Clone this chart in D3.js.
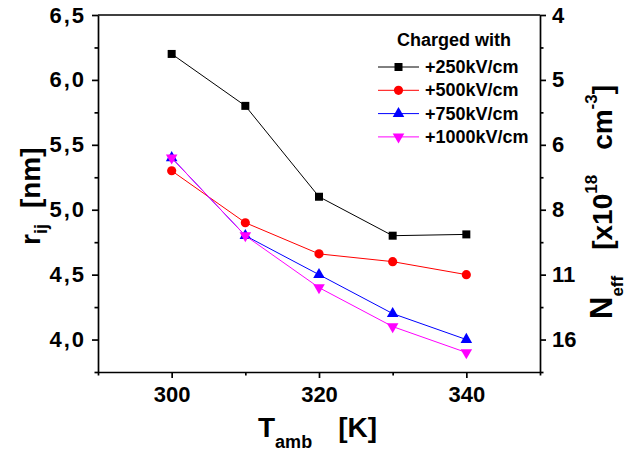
<!DOCTYPE html>
<html>
<head>
<meta charset="utf-8">
<script src="https://cdn.jsdelivr.net/npm/d3@7"></script>
<style>
  html, body { margin: 0; padding: 0; background: #fff; }
  svg { display: block; }
</style>
</head>
<body>
<svg id="chart"></svg>
<script>
const WIDTH = 630
const HEIGHT = 453
const MARGIN = { top: 15, right: 90, bottom: 81, left: 98 }
const FONT = "'Liberation Sans', Arial, sans-serif"

// data
const temps = [300, 310, 320, 330, 340]
const seriesNames = ['+250kV/cm', '+500kV/cm', '+750kV/cm', '+1000kV/cm']
const r250 = [6.2, 5.8, 5.1, 4.8, 4.81]
const r500 = [5.3, 4.9, 4.66, 4.6, 4.5]
const r750 = [5.4, 4.8, 4.5, 4.2, 4.0]
const r1000 = [5.4, 4.8, 4.4, 4.1, 3.9]
const seriesColors = ['#000000', '#ff0000', '#0000ff', '#ff00ff']
const seriesSymbols = ['square', 'circle', 'triangle', 'triangleDown']

const xTicks = [300, 320, 340]
const xMinorTicks = [290, 310, 330, 350]
const yTicks = [4.0, 4.5, 5.0, 5.5, 6.0, 6.5]
const yMinorTicks = [3.75, 4.25, 4.75, 5.25, 5.75, 6.25]
// right axis: N_eff labels sit at the same r positions
const neffTickPos = [6.5, 6.0, 5.5, 5.0, 4.5, 4.0]
const neffTickLabels = ['4', '5', '6', '8', '11', '16']

const legendTitle = 'Charged with'

const innerWidth = WIDTH - MARGIN.left - MARGIN.right
const innerHeight = HEIGHT - MARGIN.top - MARGIN.bottom

const svg = d3.select('#chart')
    .attr('width', WIDTH).attr('height', HEIGHT)
    .attr('viewBox', `0 0 ${WIDTH} ${HEIGHT}`)
    .attr('font-family', FONT)
    .attr('font-weight', 'bold')
const g = svg.append('g').attr('transform', `translate(${MARGIN.left},${MARGIN.top})`)

const xScale = d3.scaleLinear().domain([290, 350]).range([0, innerWidth])
const yScale = d3.scaleLinear().domain([3.75, 6.5]).range([innerHeight, 0])

const AXIS_W = 1.7
const MAJOR = 6
const MINOR = 3.5

function styleAxis(sel) {
    sel.attr('font-family', FONT).attr('font-size', 22)
    sel.selectAll('g').attr('font-family', FONT).attr('font-size', 22)
    sel.select('.domain').attr('stroke', '#000').attr('stroke-width', AXIS_W)
    sel.selectAll('.tick line').attr('stroke', '#000').attr('stroke-width', AXIS_W)
    sel.selectAll('.tick text')
        .attr('fill', '#000')
        .attr('font-size', 22)
        .attr('font-weight', 'bold')
}

// minor ticks only: drop the empty labels
function minorOnly(sel) {
    sel.selectAll('.tick text').remove()
}

// frame (top line)
g.append('line')
    .attr('x1', 0).attr('x2', innerWidth)
    .attr('y1', 0).attr('y2', 0)
    .attr('stroke', '#000').attr('stroke-width', AXIS_W)

// bottom axis
const xAxisG = g.append('g').attr('transform', `translate(0,${innerHeight})`)
xAxisG.call(d3.axisBottom(xScale).tickValues(xMinorTicks).tickSize(MINOR).tickSizeOuter(0))
    .call(minorOnly)
xAxisG.append('g')
    .call(d3.axisBottom(xScale).tickValues(xTicks).tickSize(MAJOR).tickPadding(8).tickSizeOuter(0))
    .call(s => s.select('.domain').remove())
styleAxis(xAxisG)

// left axis
const yAxisG = g.append('g')
yAxisG.call(d3.axisLeft(yScale).tickValues(yMinorTicks).tickSize(MINOR).tickSizeOuter(0))
    .call(minorOnly)
yAxisG.append('g')
    .call(d3.axisLeft(yScale).tickValues(yTicks).tickSize(MAJOR)
        .tickPadding(6).tickFormat(d => d3.format('.1f')(d).replace('.', ',')).tickSizeOuter(0))
    .call(s => s.select('.domain').remove())
styleAxis(yAxisG)
yAxisG.selectAll('.tick text').attr('letter-spacing', 2)

// right axis
const rAxisG = g.append('g').attr('transform', `translate(${innerWidth},0)`)
rAxisG.call(d3.axisRight(yScale).tickValues(yMinorTicks).tickSize(MINOR).tickSizeOuter(0))
    .call(minorOnly)
rAxisG.append('g')
    .call(d3.axisRight(yScale).tickValues(neffTickPos).tickSize(MAJOR).tickPadding(6)
        .tickFormat((d, i) => neffTickLabels[i]).tickSizeOuter(0))
    .call(s => s.select('.domain').remove())
styleAxis(rAxisG)

// series
const seriesValues = [r250, r500, r750, r1000]
const symbolFor = {
    square: { type: d3.symbolSquare, size: 64, rot: 0 },
    circle: { type: d3.symbolCircle, size: 66, rot: 0 },
    triangle: { type: d3.symbolTriangle, size: 58, rot: 0 },
    triangleDown: { type: d3.symbolTriangle, size: 58, rot: 180 },
}

const lineGen = d3.line()
    .x(d => xScale(d.t))
    .y(d => yScale(d.v))

seriesValues.forEach((vals, si) => {
    const pts = temps.map((t, i) => ({ t, v: vals[i] }))
    const color = seriesColors[si]
    const sym = symbolFor[seriesSymbols[si]]
    g.append('path').datum(pts)
        .attr('fill', 'none')
        .attr('stroke', color)
        .attr('stroke-width', 1)
        .attr('d', lineGen)
    g.selectAll(`.pt-${si}`).data(pts).enter()
        .append('path').attr('class', `pt-${si}`)
        .attr('d', d3.symbol().type(sym.type).size(sym.size))
        .attr('transform', d => `translate(${xScale(d.t)},${yScale(d.v)}) rotate(${sym.rot})`)
        .attr('fill', color)
})

// legend
const legend = svg.append('g').attr('transform', 'translate(378,0)')
legend.append('text')
    .attr('x', 19).attr('y', 46)
    .attr('font-size', 18)
    .text(legendTitle)
seriesNames.forEach((name, i) => {
    const y = 67 + i * 23.3
    const sym = symbolFor[seriesSymbols[i]]
    legend.append('line')
        .attr('x1', 0).attr('x2', 41)
        .attr('y1', y).attr('y2', y)
        .attr('stroke', seriesColors[i]).attr('stroke-width', 1)
    legend.append('path')
        .attr('d', d3.symbol().type(sym.type).size(sym.size))
        .attr('transform', `translate(20.5,${y}) rotate(${sym.rot})`)
        .attr('fill', seriesColors[i])
    legend.append('text')
        .attr('x', 47).attr('y', y + 6)
        .attr('font-size', 18)
        .text(name)
})

// axis titles
const xTitle = svg.append('text')
    .attr('x', 258).attr('y', 437)
    .attr('font-size', 28)
xTitle.append('tspan').text('T')
xTitle.append('tspan').attr('dy', 11).attr('font-size', 18).text('amb')
xTitle.append('tspan').attr('dy', -11).attr('dx', 26).text('[K]')

const yTitle = svg.append('text')
    .attr('transform', 'translate(40,245) rotate(-90)')
    .attr('font-size', 28)
yTitle.append('tspan').text('r')
yTitle.append('tspan').attr('dy', 7).attr('font-size', 18).text('ij')
yTitle.append('tspan').attr('dy', -7).attr('dx', 16).text('[nm]')

const rTitle = svg.append('text')
    .attr('transform', 'translate(612,319) rotate(-90)')
    .attr('font-size', 28)
rTitle.append('tspan').attr('font-size', 31).text('N')
rTitle.append('tspan').attr('dy', 11).attr('font-size', 17).text('eff')
rTitle.append('tspan').attr('dy', -11).attr('dx', 26).text('[x10')
rTitle.append('tspan').attr('dy', -15).attr('font-size', 17).text('18')
rTitle.append('tspan').attr('dy', 15).attr('dx', 25).text('cm')
rTitle.append('tspan').attr('dy', -15).attr('font-size', 17).text('-3')
rTitle.append('tspan').attr('dy', 15).text(']')
</script>
</body>
</html>
